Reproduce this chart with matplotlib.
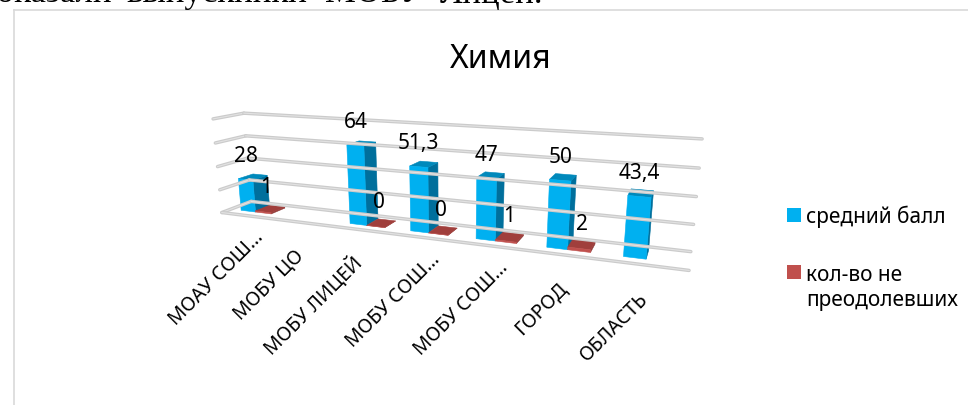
import numpy as np
import matplotlib
matplotlib.use("Agg")
import matplotlib.pyplot as plt
from matplotlib.patches import Polygon, Rectangle

# Data
categories = ["МОАУ СОШ...", "МОБУ ЦО", "МОБУ ЛИЦЕЙ", "МОБУ СОШ...", "МОБУ СОШ...", "ГОРОД", "ОБЛАСТЬ"]
avg_score = [28, None, 64, 51.3, 47, 50, 43.4]
not_passed = [1, None, 0, 0, 1, 2, None]
grid_values = [0, 20, 40, 60, 80]
series_names = ["средний балл", "кол-во не\nпреодолевших"]
page_words = ["показали", "выпускники", "МОБУ", "Лицей."]
page_word_x = [-22, 126, 325, 440]

FONT = "Noto Sans"
W, H = 968, 406

# Box corners of the fake 3D chart: (category, depth, value) -> pixel
corners = [
    ((0, 1, 0), (250, 203)), ((0, 1, 80), (245, 114)),
    ((7, 1, 0), (691, 252)), ((7, 1, 80), (702, 140)),
    ((0, 0, 0), (223, 213)), ((0, 0, 80), (212, 120)),
    ((7, 0, 0), (689, 272)),
]


# Fit a pinhole camera matrix to the corners
def fit_camera(pairs):
    rows, rhs = [], []
    for (x, y, z), (u, v) in pairs:
        rows.append([x, y, z, 1, 0, 0, 0, 0, -u * x, -u * y, -u * z])
        rhs.append(u)
        rows.append([0, 0, 0, 0, x, y, z, 1, -v * x, -v * y, -v * z])
        rhs.append(v)
    p = np.linalg.lstsq(np.array(rows, float), np.array(rhs, float), rcond=None)[0]
    return np.append(p, 1).reshape(3, 4)


CAM = fit_camera(corners)


def project(c, d, v):
    q = CAM @ np.array([c, d, v, 1.0])
    return q[0] / q[2], q[1] / q[2]


def draw_bar(ax, c0, c1, value, front, side, top, d0=0.3, d1=0.8):
    quads = [
        ([(c1, d0, 0), (c1, d1, 0), (c1, d1, value), (c1, d0, value)], side),
        ([(c0, d0, value), (c1, d0, value), (c1, d1, value), (c0, d1, value)], top),
        ([(c0, d0, 0), (c1, d0, 0), (c1, d0, value), (c0, d0, value)], front),
    ]
    for pts, col in quads:
        ax.add_patch(Polygon([project(*p) for p in pts], closed=True, fc=col, ec=col, lw=0.4))
    return project((c0 + c1) / 2, d0, value)


def grid_line(ax, a, b):
    xs, ys = zip(project(*a), project(*b))
    ax.plot(xs, ys, color="#cbcbcb", lw=2.5, solid_capstyle="round")
    ax.plot(xs, ys, color="#e2e2e2", lw=0.8)


fig = plt.figure(figsize=(W / 100, H / 100), dpi=100)
ax = fig.add_axes([0, 0, 1, 1])
ax.set_xlim(0, W)
ax.set_ylim(H, 0)
ax.axis("off")

# Text of the page above the chart, cut by the crop
for word, wx in zip(page_words, page_word_x):
    ax.text(wx, 2.5, word, family="Liberation Serif", fontsize=25, va="baseline", ha="left", color="black")

# Chart frame
ax.plot([14, 14], [H, 11], color="#d9d9d9", lw=1.2)
ax.plot([14, W], [11, 11], color="#d9d9d9", lw=1.2)

ax.text(501, 59, "Химия", family=FONT, fontsize=23, ha="center", va="center")

for g in grid_values:
    grid_line(ax, (0, 0, g), (0, 1, g))
    grid_line(ax, (0, 1, g), (7, 1, g))
grid_line(ax, (0, 0, 0), (7, 0, 0))

# Bars, left to right
for i in range(len(categories)):
    if avg_score[i] is not None:
        x, y = draw_bar(ax, i + 0.2, i + 0.48, avg_score[i], "#00b0f0", "#006f9c", "#0089bb")
        ax.text(x, y - 24, str(avg_score[i]).replace(".", ","), family=FONT, fontsize=15,
                ha="center", va="center")
    if not_passed[i] is not None:
        x, y = draw_bar(ax, i + 0.48, i + 0.78, not_passed[i], "#c0504d", "#8f3a38", "#a03f3c")
        ax.text(x + 3, y - 25, str(not_passed[i]), family=FONT, fontsize=15,
                ha="center", va="center")

# Category labels, the cut ones reach a bit further along the slope
for i, name in enumerate(categories):
    x, y = project(i + 0.5, 0, 0)
    if name.endswith("..."):
        x, y = x + 13, y + 18
    else:
        x, y = x - 1, y + 30
    ax.text(x, y, name, family=FONT, fontsize=14, rotation=45,
            rotation_mode="anchor", ha="right", va="center")

# Legend
ax.add_patch(Rectangle((787, 209), 14, 14, fc="#00b0f0", ec="none"))
ax.add_patch(Rectangle((787, 266), 14, 14, fc="#c0504d", ec="none"))
ax.text(806, 217, series_names[0], family=FONT, fontsize=15, va="center", ha="left")
ax.text(806, 288, series_names[1], family=FONT, fontsize=15, va="center", ha="left", linespacing=1.3)

fig.savefig("out.png", dpi=100)
